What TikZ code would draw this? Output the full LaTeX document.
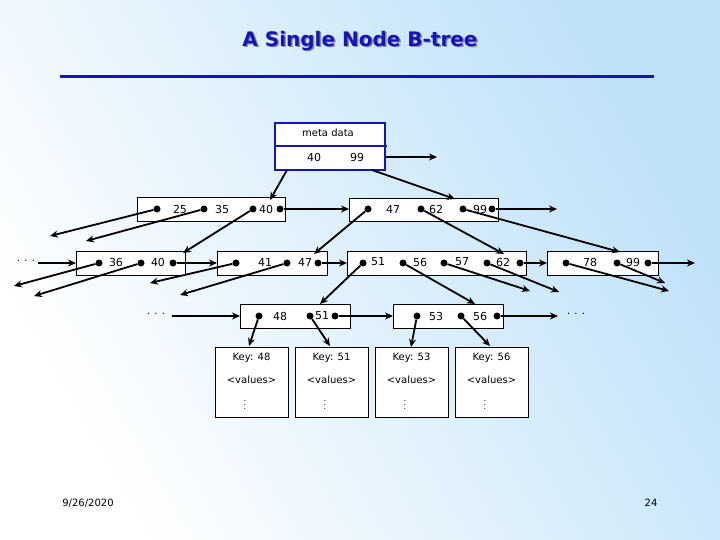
\documentclass[tikz,border=0pt]{standalone}
\usepackage{fontspec}
\setmainfont{DejaVu Sans}
\usetikzlibrary{arrows.meta}
\definecolor{bgblue}{RGB}{190,225,248}
\definecolor{titleblue}{RGB}{20,20,190}
\begin{document}
\begin{tikzpicture}[x=1pt,y=-1pt,
  bx/.style={draw=black,fill=white,line width=0.7pt},
  lf/.style={draw=black,fill=white,line width=0.7pt},
  ptr/.style={line width=1.8pt,-{Stealth[length=8pt,width=7pt]}},
  dt/.style={circle,fill=black,inner sep=0pt,minimum size=7pt},
  lbl/.style={font=\fontsize{11}{13}\selectfont,inner sep=0pt},
  txt/.style={font=\fontsize{10}{12}\selectfont,inner sep=0pt}]
\useasboundingbox (0,0) rectangle (720,540);
\shade[shading=axis,left color=bgblue,right color=white,shading angle=-60] (0,0) rectangle (720,540);
% title
\node[font=\fontsize{20}{24}\selectfont\bfseries,text=black!45] at (361.5,42.5) {A Single Node B-tree};
\node[font=\fontsize{20}{24}\selectfont\bfseries,text=titleblue] (title) at (360,41) {A Single Node B-tree};
\draw[titleblue,line width=3pt] (60,77) -- (654,77);
% meta
\draw[titleblue,line width=2.2pt,fill=white] (275,123) rectangle (385,170);
\draw[titleblue,line width=2.2pt] (275,146) -- (387,146);
\node[txt] (md) at (328,133) {meta data};
\node[lbl] (m40) at (314,157) {40};
\node[lbl] (m99) at (357,157) {99};
\coordinate (mr) at (386,157); \coordinate (mre) at (437,157);
\coordinate (ml) at (287,170); \coordinate (mb) at (372,170);
% level 1
\draw[bx] (137,197) rectangle (285,221);
\draw[bx] (349,198) rectangle (498,221);
\node[lbl] at (180,209) {25};\node[lbl] at (222,209) {35};\node[lbl] at (266,209) {40};
\node[lbl] at (393,209) {47};\node[lbl] at (436,209) {62};\node[lbl] at (480,209) {99};
\foreach \n/\x in {a1/157,a2/204,a3/253,a4/280,b1/368,b2/421,b3/463,b4/492}
  \node[dt] (\n) at (\x,209) {};
% level 2
\draw[bx] (76,251) rectangle (185,275);
\draw[bx] (217,251) rectangle (327,275);
\draw[bx] (347,251) rectangle (526,275);
\draw[bx] (547,251) rectangle (658,275);
\node[lbl] at (116,262) {36};\node[lbl] at (158,262) {40};
\node[lbl] at (265,262) {41};\node[lbl] at (305,262) {47};
\node[lbl] at (378,262) {51};\node[lbl] at (420,262) {56};\node[lbl] at (462,262) {57};\node[lbl] at (503,262) {62};
\node[lbl] at (590,262) {78};\node[lbl] at (633,262) {99};
\foreach \n/\x in {c1/99,c2/141,c3/173,d1/236,d2/287,d3/318,e1/363,e2/403,e3/444,e4/487,e5/520,f1/566,f2/617,f3/648}
  \node[dt] (\n) at (\x,263) {};
\node[txt] (dl) at (26,261) {. . .};
% level 3
\draw[bx] (240,304) rectangle (350,328);
\draw[bx] (393,304) rectangle (503,328);
\node[lbl] at (280,316) {48};\node[lbl] at (322,316) {51};
\node[lbl] at (436,316) {53};\node[lbl] at (480,316) {56};
\foreach \n/\x in {g1/259,g2/310,g3/335,h1/417,h2/461,h3/497}
  \node[dt] (\n) at (\x,316) {};
\node[txt] (dg) at (156,314) {. . .};
\node[txt] (dh) at (576,314) {. . .};
% leaves
\foreach \i/\x/\k in {1/215/48,2/295/51,3/375/53,4/455/56}{
  \draw[lf] (\x,347) rectangle ++(73,70);
  \node[txt] (k\i) at (\x+36.5,358) {Key: \k};
  \node[txt] (v\i) at (\x+36.5,380) {<values>};
  \node[font=\fontsize{8}{9}\selectfont,inner sep=0pt] (w\i) at (\x+30,402) {$\vdots$};
}
% coordinates for arrow ends
\coordinate (A1) at (50,236);\coordinate (A2) at (86,241);\coordinate (A3) at (183,253);
\coordinate (B1) at (314,254);\coordinate (B2) at (504,254);\coordinate (B3) at (620,252);
\coordinate (C1) at (14,286);\coordinate (C2) at (34,296);
\coordinate (D1) at (150,283);\coordinate (D2) at (180,295);
\coordinate (E1) at (320,304);\coordinate (E2) at (475,304);\coordinate (E3) at (530,291);\coordinate (E4) at (559,292);
\coordinate (F1) at (669,291);\coordinate (F2) at (665,283);\coordinate (F3) at (695,263);
\coordinate (A0) at (349,209);\coordinate (B0) at (557,209);
\coordinate (C0) at (217,263);\coordinate (D0) at (347,263);\coordinate (E0) at (547,263);
\coordinate (L0) at (76,263);\coordinate (G0) at (240,316);\coordinate (H0) at (393,316);\coordinate (H4) at (558,316);
\coordinate (G1) at (249,346);\coordinate (G2) at (330,346);\coordinate (H1) at (411,347);\coordinate (H2) at (490,346);
% arrows
\draw[ptr] (mr) -- (mre);
\draw[ptr] (ml) -- (270,200);
\draw[ptr] (mb) -- (455,199);
\draw[ptr] (a1) -- (A1);\draw[ptr] (a2) -- (A2);\draw[ptr] (a3) -- (A3);\draw[ptr] (a4) -- (A0);
\draw[ptr] (b1) -- (B1);\draw[ptr] (b2) -- (B2);\draw[ptr] (b3) -- (B3);\draw[ptr] (b4) -- (B0);
\draw[ptr] (38,263) -- (L0);
\draw[ptr] (c1) -- (C1);\draw[ptr] (c2) -- (C2);\draw[ptr] (c3) -- (C0);
\draw[ptr] (d1) -- (D1);\draw[ptr] (d2) -- (D2);\draw[ptr] (d3) -- (D0);
\draw[ptr] (e1) -- (E1);\draw[ptr] (e2) -- (E2);\draw[ptr] (e3) -- (E3);\draw[ptr] (e4) -- (E4);\draw[ptr] (e5) -- (E0);
\draw[ptr] (f1) -- (F1);\draw[ptr] (f2) -- (F2);\draw[ptr] (f3) -- (F3);
\draw[ptr] (172,316) -- (G0);
\draw[ptr] (g1) -- (G1);\draw[ptr] (g2) -- (G2);\draw[ptr] (g3) -- (H0);
\draw[ptr] (h1) -- (H1);\draw[ptr] (h2) -- (H2);\draw[ptr] (h3) -- (H4);
% footer
\node[txt] (date) at (88,503) {9/26/2020};
\node[txt] (pg) at (651,503) {24};
\end{tikzpicture}
\end{document}
